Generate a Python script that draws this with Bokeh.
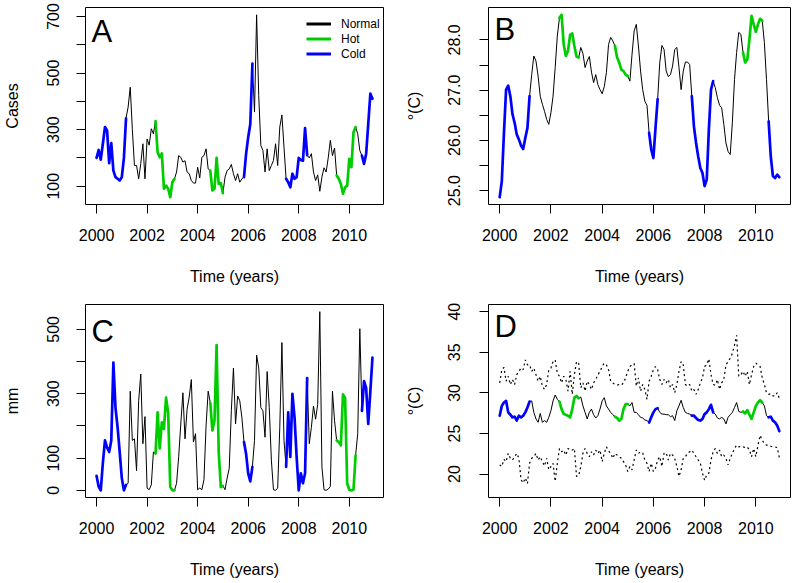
import numpy as np
from bokeh.plotting import figure
from bokeh.models import Range1d, FixedTicker, Label, Legend, LegendItem, PrintfTickFormatter
from bokeh.layouts import row, column
from bokeh.embed import file_html
from bokeh.resources import INLINE

# ---------------- data (monthly, Jan 2000 - Dec 2010) ----------------
start_year = 2000
n_months = 132
time = [start_year + m / 12 for m in range(n_months)]

# ENSO phase runs: (phase, first month index, last month index)
phase_runs = [("Cold", 0, 14), ("Hot", 28, 37), ("Hot", 54, 60), ("Cold", 70, 74),
              ("Cold", 90, 100), ("Hot", 114, 123), ("Cold", 126, 131)]

cases = [
    200, 228, 194, 250, 309, 297, 181, 252, 155, 132, 126, 120,
    132, 200, 340, 380, 450, 300, 173, 173, 126, 180, 250, 126,
    267, 245, 303, 285, 330, 220, 202, 216, 91, 102, 91, 61,
    114, 126, 150, 208, 202, 185, 190, 150, 144, 120, 111, 111,
    167, 129, 202, 208, 232, 161, 155, 85, 91, 200, 108, 111,
    75, 132, 155, 161, 177, 144, 120, 144, 114, 126, 132, 214,
    273, 320, 533, 362, 706, 420, 244, 226, 150, 232, 155, 173,
    191, 250, 173, 309, 352, 238, 126, 114, 96, 144, 126, 132,
    200, 193, 190, 305, 210, 200, 215, 150, 120, 140, 82, 132,
    165, 150, 200, 262, 208, 235, 138, 126, 108, 73, 96, 102,
    197, 167, 291, 309, 285, 226, 208, 179, 214, 320, 427, 409,
]

sst = [
    24.87, 25.19, 26.15, 27.01, 27.09, 26.88, 26.52, 26.35, 26.12, 26.02, 25.90, 25.83,
    26.05, 26.25, 26.88, 27.31, 27.68, 27.58, 27.28, 26.88, 26.72, 26.58, 26.42, 26.32,
    26.55, 26.88, 27.45, 28.08, 28.44, 28.50, 27.91, 27.68, 27.78, 28.10, 28.13, 27.88,
    27.67, 27.65, 27.85, 27.73, 27.45, 27.58, 27.67, 27.36, 27.15, 27.31, 27.11, 27.01,
    26.93, 27.07, 27.35, 27.91, 28.05, 27.98, 27.88, 27.65, 27.55, 27.41, 27.38, 27.31,
    27.28, 27.18, 27.71, 28.18, 28.31, 27.88, 27.38, 27.01, 26.78, 26.70, 26.15, 25.82,
    25.65, 26.25, 26.82, 27.55, 27.89, 27.81, 27.38, 27.27, 27.31, 27.48, 27.81, 27.85,
    27.45, 27.01, 27.38, 27.56, 27.56, 27.51, 26.88, 26.28, 25.95, 25.68, 25.45, 25.35,
    25.09, 25.22, 26.22, 27.01, 27.18, 27.05, 26.85, 26.70, 26.65, 26.32, 25.95, 25.78,
    25.72, 26.35, 27.21, 27.75, 28.15, 28.11, 27.75, 27.55, 27.61, 28.01, 28.48, 28.31,
    28.16, 28.31, 28.42, 28.38, 27.95, 27.21, 26.38, 25.68, 25.29, 25.25, 25.32, 25.27,
]

rain = [
    45, 12, 0, 85, 155, 133, 119, 155, 397, 257, 196, 119,
    38, 0, 17, 22, 308, 155, 160, 61, 278, 361, 145, 229,
    7, 2, 17, 119, 114, 242, 130, 211, 191, 288, 242, 10,
    0, 0, 22, 104, 206, 303, 160, 252, 290, 344, 150, 176,
    2, 7, 2, 33, 201, 308, 272, 186, 216, 451, 120, 10,
    14, 2, 38, 68, 247, 380, 206, 293, 278, 227, 150, 114,
    53, 28, 73, 155, 420, 380, 257, 247, 165, 369, 257, 94,
    2, 0, 7, 196, 459, 155, 73, 242, 104, 300, 227, 104,
    0, 53, 22, 53, 349, 145, 196, 262, 221, 267, 555, 73,
    2, 0, 4, 12, 308, 216, 155, 150, 140, 298, 288, 22,
    2, 0, 2, 109, 176, 502, 247, 339, 318, 206, 308, 412,
]

t_mean = [
    27.19, 28.40, 28.81, 29.01, 27.60, 27.31, 26.99, 27.07, 26.59, 27.19, 26.99, 27.19,
    27.60, 28.20, 28.93, 29.01, 27.60, 26.79, 26.38, 27.47, 26.38, 26.59, 26.38, 26.99,
    27.80, 29.01, 29.74, 29.21, 28.93, 28.00, 27.39, 27.31, 27.19, 26.99, 28.00, 29.41,
    29.62, 29.33, 29.49, 28.40, 27.60, 26.79, 27.60, 28.00, 27.31, 26.91, 27.19, 28.00,
    29.01, 29.41, 28.40, 28.00, 27.60, 27.31, 27.07, 26.91, 26.59, 26.79, 28.00, 28.61,
    28.61, 28.40, 28.81, 27.60, 27.60, 27.31, 26.99, 26.91, 26.67, 26.59, 26.34, 26.99,
    27.60, 28.00, 28.12, 27.60, 27.39, 27.39, 27.31, 27.31, 27.07, 27.19, 26.59, 27.80,
    28.40, 29.09, 28.20, 27.60, 27.47, 27.39, 27.19, 27.19, 26.91, 26.67, 26.59, 26.79,
    27.39, 27.60, 28.00, 28.53, 27.60, 27.39, 26.91, 26.79, 26.99, 26.79, 26.18, 26.99,
    27.31, 27.60, 28.20, 28.81, 27.72, 27.60, 27.72, 27.47, 27.88, 27.31, 26.79, 27.60,
    28.40, 28.81, 29.09, 28.81, 28.40, 27.19, 26.99, 27.07, 26.59, 26.38, 25.98, 25.29,
]

t_max = [
    31.23, 32.85, 33.13, 31.43, 32.04, 31.03, 31.64, 31.03, 32.24, 32.65, 33.05, 32.85,
    34.06, 33.45, 33.45, 32.65, 33.05, 32.24, 31.43, 32.04, 30.83, 30.42, 31.03, 32.85,
    33.05, 33.86, 34.06, 32.44, 32.04, 31.23, 32.04, 31.64, 30.22, 32.65, 29.82, 32.24,
    33.86, 33.66, 30.63, 31.23, 30.22, 31.43, 31.03, 30.42, 31.23, 31.64, 32.24, 32.65,
    33.25, 33.66, 33.45, 32.85, 31.43, 31.23, 31.03, 30.95, 31.03, 30.95, 31.23, 31.84,
    32.65, 33.25, 33.45, 33.60, 30.83, 31.84, 30.22, 31.03, 30.42, 29.21, 31.43, 32.04,
    32.85, 33.25, 32.85, 31.64, 31.03, 31.64, 31.23, 31.64, 30.63, 31.03, 30.02, 31.03,
    32.65, 33.86, 33.45, 31.03, 30.83, 31.03, 30.22, 30.42, 29.82, 30.42, 31.23, 31.84,
    33.25, 33.45, 34.18, 32.24, 31.03, 30.95, 31.64, 30.42, 31.23, 31.64, 33.45, 33.86,
    34.26, 34.87, 35.88, 37.09, 32.04, 32.24, 32.65, 32.04, 32.65, 31.03, 32.24, 33.25,
    33.66, 33.45, 33.25, 31.84, 31.03, 30.02, 29.82, 29.90, 29.62, 29.62, 30.02, 29.33,
]

t_min = [
    21.13, 20.93, 21.82, 21.54, 22.55, 21.94, 21.74, 22.14, 22.55, 21.94, 19.31, 18.91,
    19.52, 18.83, 21.33, 21.94, 22.14, 22.55, 21.74, 22.14, 21.54, 21.01, 21.94, 20.53,
    20.93, 21.33, 19.11, 21.33, 23.15, 22.75, 22.95, 22.34, 23.15, 22.95, 22.95, 23.15,
    19.72, 19.80, 20.93, 22.55, 23.15, 22.55, 22.14, 22.75, 22.34, 22.95, 22.55, 22.95,
    21.54, 22.55, 23.35, 22.87, 22.55, 21.94, 22.55, 22.34, 22.14, 21.94, 21.54, 21.13,
    20.32, 20.93, 20.53, 21.74, 22.95, 22.55, 22.75, 22.60, 21.74, 21.33, 20.32, 21.33,
    20.32, 20.73, 21.74, 22.14, 20.93, 22.55, 22.63, 21.74, 22.55, 22.34, 21.94, 20.93,
    19.72, 20.53, 21.94, 22.14, 22.55, 22.75, 22.95, 22.55, 22.14, 21.74, 21.33, 20.12,
    19.23, 19.92, 20.12, 21.74, 22.75, 23.15, 22.55, 22.95, 22.14, 22.34, 21.94, 21.13,
    21.94, 22.55, 23.15, 23.56, 23.35, 23.43, 23.35, 23.27, 23.35, 22.95, 22.14, 23.15,
    22.14, 23.56, 24.77, 24.16, 23.76, 23.56, 23.56, 23.43, 23.35, 23.35, 23.27, 22.06,
]

x_ticks = [2000, 2002, 2004, 2006, 2008, 2010]
legend_labels = ["Normal", "Hot", "Cold"]
phase_colors = {"Normal": "black", "Hot": "#00CD00", "Cold": "#0000FF"}

FONT = "Liberation Sans"


def r_range(lo, hi):
    d = (hi - lo) * 0.04
    return lo - d, hi + d


x_lo, x_hi = r_range(min(time), max(time))


def make_panel(width, height, bl, br, bt, bb, y_range, major, minor, ylabel,
               fmt=None, ystand=17, ylabstand=24):
    p = figure(width=width, height=height, output_backend="svg", toolbar_location=None,
               x_range=Range1d(x_lo, x_hi), y_range=Range1d(*y_range),
               min_border_left=bl, min_border_right=br, min_border_top=bt, min_border_bottom=bb)
    p.grid.visible = False
    p.outline_line_color = "black"
    p.outline_line_width = 1
    p.background_fill_color = "white"
    p.border_fill_color = "white"
    for ax in (p.xaxis[0], p.yaxis[0]):
        ax.axis_line_color = None
        ax.major_tick_out = 9
        ax.major_tick_in = 0
        ax.minor_tick_out = 9
        ax.minor_tick_in = 0
        ax.major_tick_line_color = "black"
        ax.minor_tick_line_color = "black"
        ax.major_label_text_font = FONT
        ax.major_label_text_font_size = "16px"
        ax.major_label_text_color = "black"
        ax.axis_label_text_font = FONT
        ax.axis_label_text_font_size = "16px"
        ax.axis_label_text_font_style = "normal"
        ax.axis_label_text_color = "black"
    p.xaxis.ticker = FixedTicker(ticks=x_ticks, minor_ticks=[])
    p.xaxis.axis_label = "Time (years)"
    p.xaxis.major_label_standoff = 15
    p.xaxis.axis_label_standoff = 24
    p.yaxis.ticker = FixedTicker(ticks=major, minor_ticks=minor)
    p.yaxis.major_label_orientation = "vertical"
    p.yaxis.major_label_standoff = ystand
    p.yaxis.axis_label = ylabel
    p.yaxis.axis_label_standoff = ylabstand
    if fmt:
        p.yaxis.formatter = PrintfTickFormatter(format=fmt)
    return p


def draw_series(p, values):
    p.line(time, values, line_color="black", line_width=1)
    for phase in ("Hot", "Cold"):
        xs, ys = [], []
        for ph, a, b in phase_runs:
            if ph == phase:
                xs.append(time[a:b + 1])
                ys.append(values[a:b + 1])
        p.multi_line(xs, ys, line_color=phase_colors[phase], line_width=2.7,
                     line_join="round", line_cap="round")


def letter(p, txt, y):
    p.add_layout(Label(x=1999.8, y=y, text=txt, text_font=FONT, text_font_size="31px",
                       text_color="black", text_baseline="alphabetic", text_align="left"))


# Panel A
pA = make_panel(397, 290, 79, 14, 7, 86, r_range(min(cases), max(cases)),
                [100, 300, 500, 700], [200, 400, 600], "Cases", ystand=17, ylabstand=24)
draw_series(pA, cases)
letter(pA, "A", 646)
items = []
nan_series = [float("nan")] * n_months
for lab in legend_labels:
    r = pA.line(time, nan_series, line_color=phase_colors[lab], line_width=3)
    items.append(LegendItem(label=lab, renderers=[r]))
leg = Legend(items=items, location=(221, 143), padding=0, margin=0, spacing=0,
             glyph_width=25, glyph_height=15, label_height=15, label_standoff=10,
             label_text_font=FONT, label_text_font_size="12px", label_text_color="black",
             background_fill_alpha=0, border_line_color=None)
pA.add_layout(leg)

# Panel B
pB = make_panel(398, 290, 91, 5, 7, 86, r_range(min(sst), max(sst)),
                [25, 26, 27, 28], [25.5, 26.5, 27.5], "°(C)", fmt="%.1f",
                ystand=19, ylabstand=23)
draw_series(pB, sst)
letter(pB, "B", 28.2)

# Panel C
pC = make_panel(397, 290, 79, 14, 14, 80, r_range(min(rain), max(rain)),
                [0, 100, 300, 500], [200, 400], "mm", ystand=17, ylabstand=24)
draw_series(pC, rain)
letter(pC, "C", 494)

# Panel D
pD = make_panel(398, 290, 91, 5, 14, 80, r_range(18, 40),
                [20, 25, 30, 35, 40], [], "°(C)", ystand=19, ylabstand=23)
pD.line(time, t_max, line_color="black", line_width=1.2, line_dash="2 3")
pD.line(time, t_min, line_color="black", line_width=1.2, line_dash="2 3")
draw_series(pD, t_mean)
letter(pD, "D", 38.2)

layout = column(row(pA, pB), row(pC, pD))
open("out.html", "w").write(file_html(layout, INLINE))
